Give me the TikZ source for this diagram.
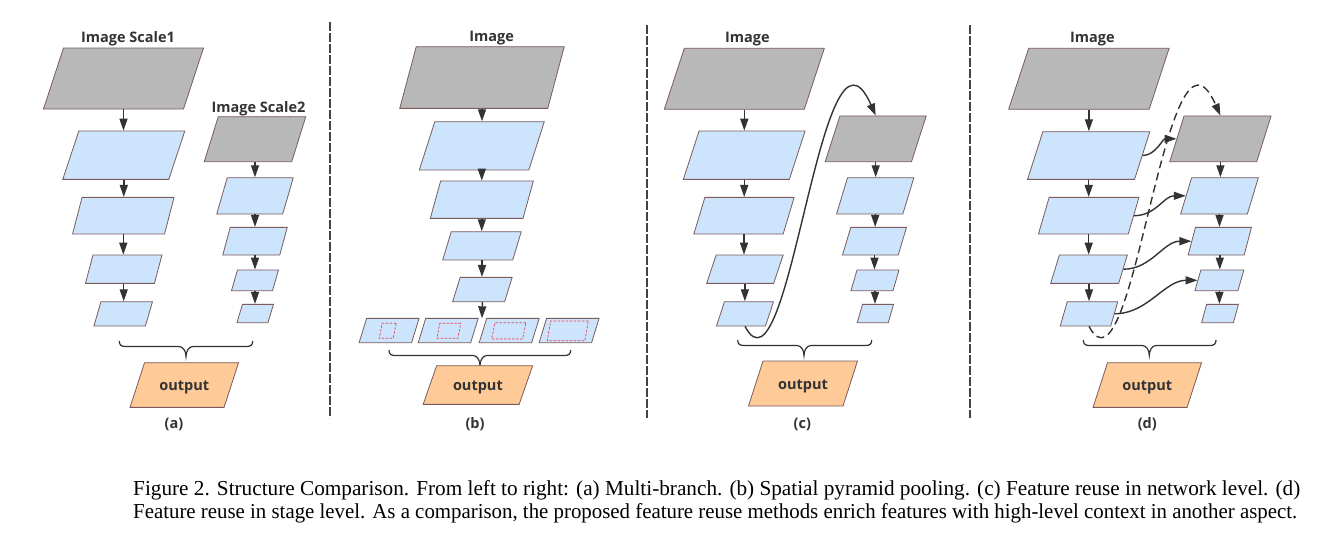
\documentclass[tikz,border=0pt]{standalone}
\usepackage{fontspec}
\usepackage{graphicx}
\setmainfont{Liberation Serif}
\newfontfamily\lblfont{Open Sans}
\usetikzlibrary{arrows.meta}
\definecolor{gfill}{HTML}{B8B8B8}
\definecolor{bfill}{HTML}{CCE4FC}
\definecolor{ofill}{HTML}{FECB98}
\definecolor{bord}{HTML}{7B5B5B}
\definecolor{ink}{HTML}{333333}
\definecolor{reddash}{HTML}{E84352}
\definecolor{sepcol}{HTML}{444444}
\tikzset{
  pg/.style n args={3}{draw=bord, line width=0.8pt, inner sep=0pt,
    minimum width=#1pt, minimum height=#2pt, xslant=#3/#2},
  grayp/.style={fill=gfill},
  bluep/.style={fill=bfill},
  orangep/.style={fill=ofill},
  redin/.style={draw=reddash, fill=none, dash pattern=on 2.5pt off 1.5pt, line width=0.7pt},
  arr/.style={draw=ink, line width=1.4pt, -{Triangle[length=12pt,width=8pt]}},
  darr/.style={arr, dash pattern=on 8pt off 4.5pt},
  lbl/.style={font=\lblfont\bfseries\fontsize{14.5}{17}\selectfont, text=ink, inner sep=0pt},
  sepline/.style={draw=sepcol, line width=1.8pt, dash pattern=on 8.5pt off 2.5pt},
  brc/.style={draw=ink, line width=1.2pt},
}
\newcommand\vlink[2]{\draw[arr] (#1.center |- #1.south) -- (#1.center |- #2.north);}
\newcommand\drawbrc[4]{% x1, x2, xtip, ytop
  \draw[brc] (#1,#4) .. controls (#1,#4+4) and (#1+2,#4+5.5) .. (#1+6,#4+5.5)
    -- (#3-7,#4+5.5) .. controls (#3-3,#4+5.5) and (#3,#4+10) .. (#3,#4+15.5)
    .. controls (#3,#4+10) and (#3+3,#4+5.5) .. (#3+7,#4+5.5)
    -- (#2-6,#4+5.5) .. controls (#2-2,#4+5.5) and (#2,#4+4) .. (#2,#4);}
\begin{document}
\begin{tikzpicture}[x=1pt,y=-1pt]
\useasboundingbox[fill=white] (0,0) rectangle (1318,542);

% separators
\draw[sepline] (330,22) -- (330,418);
\draw[sepline] (647,25) -- (647,418);
\draw[sepline] (970,25) -- (970,418);

% ---------- panel (a)
\node[lbl, anchor=base] (tA1) at (128,42.7) {Image Scale1};
\node[lbl, anchor=base] (tA2) at (258.5,112.7) {Image Scale2};
\node[pg={140}{61}{20}, grayp] (a0) at (123.5,78.5) {};
\node[pg={106}{48.3}{16}, bluep] (a1) at (123.8,155.2) {};
\node[pg={92}{36.7}{9.5}, bluep] (a2) at (123.3,215.7) {};
\node[pg={69}{28.3}{7.5}, bluep] (a3) at (123.7,269.2) {};
\node[pg={51.5}{24.3}{7}, bluep] (a4) at (123.2,313.8) {};
\node[pg={87.5}{45}{14}, grayp] (ar0) at (255,139.2) {};
\node[pg={66}{36.3}{10.5}, bluep] (ar1) at (255,195.8) {};
\node[pg={57}{27.7}{7.5}, bluep] (ar2) at (255,241.2) {};
\node[pg={41}{20.7}{6}, bluep] (ar3) at (255,280.3) {};
\node[pg={31}{18.3}{5.5}, bluep] (ar4) at (255.2,313.5) {};
\vlink{a0}{a1}\vlink{a1}{a2}\vlink{a2}{a3}\vlink{a3}{a4}
\vlink{ar0}{ar1}\vlink{ar1}{ar2}\vlink{ar2}{ar3}\vlink{ar3}{ar4}
\drawbrc{119.3}{252.7}{186}{341}
\node[pg={94}{44.7}{14.5}, orangep] (ao) at (184.3,385) {};
\node[lbl, anchor=base] (aot) at ([yshift=-5.7pt]ao.center) {output};
\node[lbl, anchor=base] (la) at (174,428) {(a)};

% ---------- panel (b)
\node[lbl, anchor=base] (tB) at (491.7,41.7) {Image};
\node[pg={148}{61.7}{16.5}, grayp] (b0) at (482,77.5) {};
\node[pg={109.5}{48.3}{15.5}, bluep] (b1) at (481.8,145.8) {};
\node[pg={92.7}{37.3}{10.3}, bluep] (b2) at (481.8,199.7) {};
\node[pg={70}{28.3}{8.5}, bluep] (b3) at (482,245.8) {};
\node[pg={52}{24.3}{7.5}, bluep] (b4) at (482.4,289.5) {};
\coordinate (brow) at (482,318.3);
\node[pg={52.5}{24.3}{7.5}, bluep] (p1) at (389.1,330.5) {};
\node[pg={52.5}{24.3}{7.5}, bluep] (p2) at (448.2,330.5) {};
\node[pg={52.5}{24.3}{7.5}, bluep] (p3) at (509.2,330.5) {};
\node[pg={52.5}{24.3}{7.5}, bluep] (p4) at (569.1,330.5) {};
\node[pg={14}{15}{3}, redin] (q1) at (387.7,330.8) {};
\node[pg={21}{15}{3}, redin] (q2) at (448.8,330.8) {};
\node[pg={31}{16.3}{3.3}, redin] (q3) at (508.8,330.8) {};
\node[pg={37.7}{19.7}{3.4}, redin] (q4) at (567.8,330.8) {};
\vlink{b0}{b1}\vlink{b1}{b2}\vlink{b2}{b3}\vlink{b3}{b4}
\draw[arr] (b4.center |- b4.south) -- (brow);
\drawbrc{389}{570.7}{480}{350}
\node[pg={96}{38.7}{13.5}, orangep] (bo) at (477.9,385) {};
\node[lbl, anchor=base] (bot) at ([yshift=-5.7pt]bo.center) {output};
\node[lbl, anchor=base] (lb) at (475,428) {(b)};

% ---------- panel (c)
\node[lbl, anchor=base] (tC) at (747.3,42.7) {Image};
\node[pg={140}{61}{20}, grayp] (c0) at (744.3,78.8) {};
\node[pg={106}{48.3}{15.7}, bluep] (c1) at (744.2,155.2) {};
\node[pg={89.3}{36.7}{11}, bluep] (c2) at (744,215.7) {};
\node[pg={67}{28.3}{9.5}, bluep] (c3) at (744.9,269.2) {};
\node[pg={49}{24.3}{8}, bluep] (c4) at (745,313.8) {};
\node[pg={86.3}{45.7}{14.7}, grayp] (cr0) at (875.7,138.8) {};
\node[pg={66.3}{36.3}{11}, bluep] (cr1) at (875.2,195.8) {};
\node[pg={55.7}{27.7}{8.3}, bluep] (cr2) at (874.5,241.2) {};
\node[pg={42}{20.7}{6}, bluep] (cr3) at (875,280.3) {};
\node[pg={31}{18.3}{5.3}, bluep] (cr4) at (875.4,313.5) {};
\vlink{c0}{c1}\vlink{c1}{c2}\vlink{c2}{c3}\vlink{c3}{c4}
\vlink{cr0}{cr1}\vlink{cr1}{cr2}\vlink{cr2}{cr3}\vlink{cr3}{cr4}
\draw[arr] (c4.center |- c4.south) .. controls +(45,85) and +(-55,-125) .. (cr0.center |- cr0.north);
\drawbrc{737.7}{871.7}{804}{340}
\node[pg={94.5}{45}{14.5}, orangep] (co) at (803,383.5) {};
\node[lbl, anchor=base] (cot) at ([yshift=-5.7pt]co.center) {output};
\node[lbl, anchor=base] (lc) at (802.3,428) {(c)};

% ---------- panel (d)
\node[lbl, anchor=base] (tD) at (1092.3,42.7) {Image};
\node[pg={140.5}{61}{20}, grayp] (d0) at (1088.9,78.8) {};
\node[pg={107}{47.7}{15.3}, bluep] (d1) at (1088.7,155.5) {};
\node[pg={89.8}{36.7}{10.7}, bluep] (d2) at (1088.7,215.7) {};
\node[pg={68}{28.3}{8.7}, bluep] (d3) at (1089,269.2) {};
\node[pg={50.5}{24.3}{7}, bluep] (d4) at (1089,313.8) {};
\node[pg={87}{45.7}{14.3}, grayp] (dr0) at (1220.4,138.8) {};
\node[pg={66.7}{36.3}{11}, bluep] (dr1) at (1219.5,195.8) {};
\node[pg={56}{27.7}{7.3}, bluep] (dr2) at (1219.8,241.2) {};
\node[pg={43}{20.7}{6}, bluep] (dr3) at (1219.4,280.3) {};
\node[pg={31.8}{18.3}{5}, bluep] (dr4) at (1220,313.5) {};
\vlink{d0}{d1}\vlink{d1}{d2}\vlink{d2}{d3}\vlink{d3}{d4}
\vlink{dr0}{dr1}\vlink{dr1}{dr2}\vlink{dr2}{dr3}\vlink{dr3}{dr4}
\draw[darr] (d4.center |- d4.south) .. controls +(45,85) and +(-55,-125) .. (dr0.center |- dr0.north);
\draw[arr] (d1.east) .. controls +(13,0) and +(-14,0) .. (dr0.west);
\draw[arr] (d2.east) .. controls +(22,0) and +(-22,0) .. (dr1.west);
\draw[arr] (d3.east) .. controls +(28,0) and +(-28,0) .. (dr2.west);
\draw[arr] (d4.east) .. controls +(33,0) and +(-33,0) .. (dr3.west);
\drawbrc{1083.3}{1216}{1149.3}{340}
\node[pg={94}{44.7}{14.5}, orangep] (do) at (1147.3,385) {};
\node[lbl, anchor=base] (dot) at ([yshift=-5.7pt]do.center) {output};
\node[lbl, anchor=base] (ld) at (1147.3,428) {(d)};

% ---------- caption
\node[anchor=base west, inner sep=0pt, font=\fontsize{20}{24}\selectfont] (cap1) at (133,495)
  {\resizebox{1167pt}{15pt}{Figure 2. Structure Comparison. From left to right: (a) Multi-branch. (b) Spatial pyramid pooling. (c) Feature reuse in network level. (d)}};
\node[anchor=base west, inner sep=0pt, font=\fontsize{20}{24}\selectfont] (cap2) at (133,518.5)
  {\resizebox{1164pt}{15pt}{Feature reuse in stage level. As a comparison, the proposed feature reuse methods enrich features with high-level context in another aspect.}};
\end{tikzpicture}
\end{document}
